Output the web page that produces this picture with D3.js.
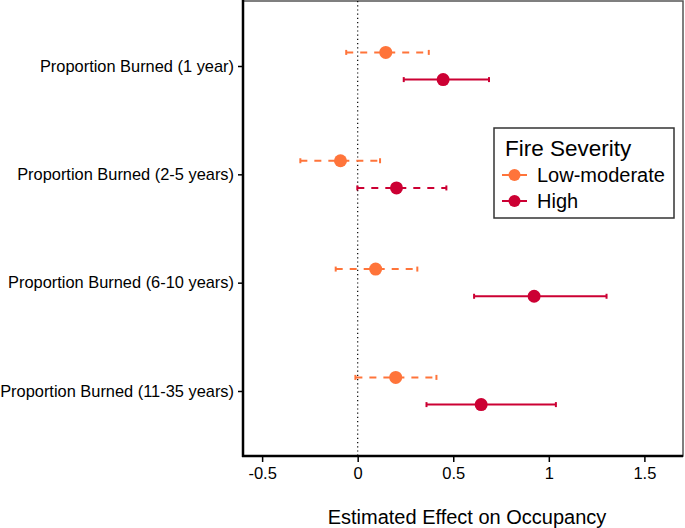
<!DOCTYPE html>
<html><head><meta charset="utf-8">
<script src="https://cdn.jsdelivr.net/npm/d3@7"></script>
<style>body{margin:0;background:#fff}svg{display:block;font-family:"Liberation Sans",Arial,sans-serif}</style>
</head><body><svg id="c" width="685" height="528"></svg>
<script>
const categories = ["Proportion Burned (1 year)","Proportion Burned (2-5 years)","Proportion Burned (6-10 years)","Proportion Burned (11-35 years)"];
const severities = ["Low-moderate","High"];
const lowEst   = [0.147, -0.090, 0.094, 0.199];
const lowLower = [-0.060, -0.300, -0.115, -0.012];
const lowUpper = [0.372, 0.117, 0.312, 0.412];
const highEst   = [0.447, 0.203, 0.923, 0.646];
const highLower = [0.241, -0.002, 0.609, 0.360];
const highUpper = [0.687, 0.464, 1.302, 1.037];
const highSignificant = [true, false, true, true];
const xTicks = [-0.5, 0, 0.5, 1, 1.5];
const colors = {"Low-moderate":"#FF743A","High":"#CC0033"};

const svg = d3.select("#c");
const L = 243, R = 683, T = 1, B = 456;
const x = d3.scaleLinear().domain([-0.6, 1.702]).range([L, R]);
const y = d3.scalePoint().domain(categories).range([T, B]).padding(0.6);
const dodge = d3.scalePoint().domain(severities).range([-13.6, 13.6]);
const FF = "Liberation Sans, Arial, sans-serif";

svg.append("rect").attr("x",L).attr("y",T).attr("width",R-L).attr("height",B-T)
  .attr("fill","none").attr("stroke","#555").attr("stroke-width",1.5);

svg.append("line").attr("x1",x(0)).attr("x2",x(0)).attr("y1",T).attr("y2",B)
  .attr("stroke","#000").attr("stroke-width",1.2).attr("stroke-dasharray","1.2,3");

const rows = [];
categories.forEach((c,i)=>{
  rows.push({cat:c, sev:"Low-moderate", est:lowEst[i], lo:lowLower[i], hi:lowUpper[i], dashed:true});
  rows.push({cat:c, sev:"High", est:highEst[i], lo:highLower[i], hi:highUpper[i], dashed:!highSignificant[i]});
});

const g = svg.append("g");
rows.forEach(d=>{
  const yy = y(d.cat) + dodge(d.sev);
  const col = colors[d.sev];
  g.append("line").attr("x1",x(d.lo)).attr("x2",x(d.hi)).attr("y1",yy).attr("y2",yy)
    .attr("stroke",col).attr("stroke-width",2)
    .attr("stroke-dasharray", d.dashed ? "7,7" : null);
  [d.lo,d.hi].forEach(v=>{
    g.append("line").attr("x1",x(v)).attr("x2",x(v)).attr("y1",yy-2.5).attr("y2",yy+2.5)
      .attr("stroke",col).attr("stroke-width",2);
  });
  g.append("circle").attr("cx",x(d.est)).attr("cy",yy).attr("r",6.5).attr("fill",col);
});

const xa = svg.append("g").attr("transform",`translate(0,${B})`)
  .call(d3.axisBottom(x).tickValues(xTicks).tickFormat(d=>String(d)).tickSize(6).tickPadding(5));
xa.select(".domain").remove();
xa.selectAll("line").attr("stroke","#000").attr("stroke-width",1.5);
xa.selectAll("text").attr("font-size",16.5).attr("fill","#000").attr("font-family",FF);
svg.append("line").attr("x1",L-1).attr("x2",R).attr("y1",B).attr("y2",B).attr("stroke","#000").attr("stroke-width",2.5);

const ya = svg.append("g").attr("transform",`translate(${L},0)`)
  .call(d3.axisLeft(y).tickSize(5).tickPadding(4));
ya.select(".domain").remove();
ya.selectAll("line").attr("stroke","#000").attr("stroke-width",1.5);
ya.selectAll("text").attr("font-size",16.4).attr("fill","#000").attr("font-family",FF);
svg.append("line").attr("x1",L).attr("x2",L).attr("y1",T-1).attr("y2",B+1).attr("stroke","#000").attr("stroke-width",2.5);

svg.append("text").attr("x",(L+R)/2+4).attr("y",524).attr("text-anchor","middle")
  .attr("font-size",20).text("Estimated Effect on Occupancy");

const lg = svg.append("g").attr("transform","translate(494,128)");
lg.append("rect").attr("width",180).attr("height",90).attr("fill","#fff").attr("stroke","#333").attr("stroke-width",1.5);
lg.append("text").attr("x",11).attr("y",28).attr("font-size",22.5).text("Fire Severity");
severities.forEach((s,i)=>{
  const yy = 47 + i*26;
  lg.append("line").attr("x1",8).attr("x2",33).attr("y1",yy).attr("y2",yy).attr("stroke",colors[s]).attr("stroke-width",2);
  lg.append("circle").attr("cx",20.5).attr("cy",yy).attr("r",6).attr("fill",colors[s]);
  lg.append("text").attr("x",43).attr("y",yy+7).attr("font-size",20).text(s);
});
</script></body></html>
